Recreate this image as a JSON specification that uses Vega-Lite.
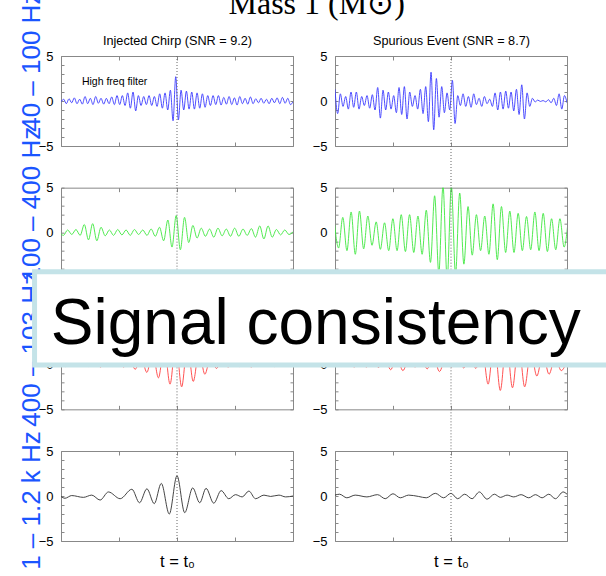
{
"$schema": "https://vega.github.io/schema/vega-lite/v6.json",
"background": "white",
"padding": {"left": 17, "top": -13, "right": -6, "bottom": 4},
"title": {"text": "Mass 1 (M⊙)", "font": "Liberation Serif", "fontSize": 32, "fontWeight": "normal", "color": "#000", "anchor": "middle", "offset": -55, "baseline": "alphabetic", "dx": 2},
"config": {
  "view": {"stroke": "#888", "strokeWidth": 1},
  "axis": {"domain": false, "grid": false, "tickColor": "#888", "tickWidth": 1, "labelFont": "Liberation Sans", "labelFontSize": 13, "labelColor": "#000", "titleFontWeight": "normal", "titleColor": "#000", "titleFont": "Liberation Sans", "titleLimit": 1000}
},
"data": {"values": [
{"panel":"A1","t":-2,"v":-0.1},{"panel":"A1","t":-1.954,"v":0.2},{"panel":"A1","t":-1.908,"v":-0.3},{"panel":"A1","t":-1.862,"v":0.25},{"panel":"A1","t":-1.816,"v":-0.2},{"panel":"A1","t":-1.77,"v":0.35},{"panel":"A1","t":-1.724,"v":-0.3},{"panel":"A1","t":-1.678,"v":0.2},{"panel":"A1","t":-1.632,"v":-0.35},{"panel":"A1","t":-1.586,"v":0.5},
{"panel":"A1","t":-1.54,"v":-0.3},{"panel":"A1","t":-1.494,"v":0.3},{"panel":"A1","t":-1.448,"v":-0.4},{"panel":"A1","t":-1.402,"v":0.5},{"panel":"A1","t":-1.356,"v":-0.25},{"panel":"A1","t":-1.31,"v":0.3},{"panel":"A1","t":-1.264,"v":-0.35},{"panel":"A1","t":-1.218,"v":0.3},{"panel":"A1","t":-1.172,"v":-0.3},{"panel":"A1","t":-1.126,"v":0.45},
{"panel":"A1","t":-1.08,"v":-0.4},{"panel":"A1","t":-1.034,"v":0.6},{"panel":"A1","t":-0.988,"v":-0.4},{"panel":"A1","t":-0.942,"v":0.6},{"panel":"A1","t":-0.896,"v":-0.5},{"panel":"A1","t":-0.85,"v":0.9},{"panel":"A1","t":-0.804,"v":-0.8},{"panel":"A1","t":-0.758,"v":1.0},{"panel":"A1","t":-0.712,"v":-1.1},{"panel":"A1","t":-0.666,"v":0.6},
{"panel":"A1","t":-0.62,"v":-0.5},{"panel":"A1","t":-0.574,"v":0.5},{"panel":"A1","t":-0.528,"v":-0.4},{"panel":"A1","t":-0.482,"v":0.6},{"panel":"A1","t":-0.436,"v":-0.5},{"panel":"A1","t":-0.39,"v":0.5},{"panel":"A1","t":-0.344,"v":-0.6},{"panel":"A1","t":-0.298,"v":0.8},{"panel":"A1","t":-0.252,"v":-0.8},{"panel":"A1","t":-0.206,"v":0.9},
{"panel":"A1","t":-0.16,"v":-1.0},{"panel":"A1","t":-0.114,"v":1.2},{"panel":"A1","t":-0.068,"v":-2.2},{"panel":"A1","t":-0.022,"v":2.7},{"panel":"A1","t":0.024,"v":-2.1},{"panel":"A1","t":0.07,"v":1.2},{"panel":"A1","t":0.116,"v":-1.0},{"panel":"A1","t":0.162,"v":1.1},{"panel":"A1","t":0.208,"v":-0.9},{"panel":"A1","t":0.254,"v":1.0},
{"panel":"A1","t":0.3,"v":-0.9},{"panel":"A1","t":0.346,"v":0.9},{"panel":"A1","t":0.392,"v":-0.8},{"panel":"A1","t":0.438,"v":0.8},{"panel":"A1","t":0.484,"v":-0.7},{"panel":"A1","t":0.53,"v":0.6},{"panel":"A1","t":0.576,"v":-0.5},{"panel":"A1","t":0.622,"v":0.6},{"panel":"A1","t":0.668,"v":-0.4},{"panel":"A1","t":0.714,"v":0.6},
{"panel":"A1","t":0.76,"v":-0.45},{"panel":"A1","t":0.806,"v":0.4},{"panel":"A1","t":0.852,"v":-0.35},{"panel":"A1","t":0.898,"v":0.5},{"panel":"A1","t":0.944,"v":-0.4},{"panel":"A1","t":0.99,"v":0.35},{"panel":"A1","t":1.036,"v":-0.45},{"panel":"A1","t":1.082,"v":0.5},{"panel":"A1","t":1.128,"v":-0.3},{"panel":"A1","t":1.174,"v":0.3},
{"panel":"A1","t":1.22,"v":-0.35},{"panel":"A1","t":1.266,"v":0.45},{"panel":"A1","t":1.312,"v":-0.3},{"panel":"A1","t":1.358,"v":0.25},{"panel":"A1","t":1.404,"v":-0.2},{"panel":"A1","t":1.45,"v":0.3},{"panel":"A1","t":1.496,"v":-0.25},{"panel":"A1","t":1.542,"v":0.2},{"panel":"A1","t":1.588,"v":-0.3},{"panel":"A1","t":1.634,"v":0.3},
{"panel":"A1","t":1.68,"v":-0.2},{"panel":"A1","t":1.726,"v":0.35},{"panel":"A1","t":1.772,"v":-0.3},{"panel":"A1","t":1.818,"v":0.4},{"panel":"A1","t":1.864,"v":-0.25},{"panel":"A1","t":1.91,"v":0.3},{"panel":"A1","t":1.956,"v":-0.4},{"panel":"A1","t":2,"v":-0.1},

{"panel":"B1","t":-2,"v":1.3},{"panel":"B1","t":-1.954,"v":-1.4},{"panel":"B1","t":-1.908,"v":0.8},{"panel":"B1","t":-1.862,"v":-0.6},{"panel":"B1","t":-1.816,"v":0.5},{"panel":"B1","t":-1.77,"v":-0.9},{"panel":"B1","t":-1.724,"v":1.0},{"panel":"B1","t":-1.678,"v":-0.7},{"panel":"B1","t":-1.632,"v":1.0},{"panel":"B1","t":-1.586,"v":-0.9},
{"panel":"B1","t":-1.54,"v":0.5},{"panel":"B1","t":-1.494,"v":-0.5},{"panel":"B1","t":-1.448,"v":0.6},{"panel":"B1","t":-1.402,"v":-0.8},{"panel":"B1","t":-1.356,"v":0.7},{"panel":"B1","t":-1.31,"v":-1.0},{"panel":"B1","t":-1.264,"v":1.5},{"panel":"B1","t":-1.218,"v":-1.9},{"panel":"B1","t":-1.172,"v":1.2},{"panel":"B1","t":-1.126,"v":-1.0},
{"panel":"B1","t":-1.08,"v":1.0},{"panel":"B1","t":-1.034,"v":-0.9},{"panel":"B1","t":-0.988,"v":0.6},{"panel":"B1","t":-0.942,"v":-1.3},{"panel":"B1","t":-0.896,"v":1.5},{"panel":"B1","t":-0.85,"v":-1.5},{"panel":"B1","t":-0.804,"v":1.6},{"panel":"B1","t":-0.758,"v":-2.0},{"panel":"B1","t":-0.712,"v":1.0},{"panel":"B1","t":-0.666,"v":-0.6},
{"panel":"B1","t":-0.62,"v":0.6},{"panel":"B1","t":-0.574,"v":-0.9},{"panel":"B1","t":-0.528,"v":1.3},{"panel":"B1","t":-0.482,"v":-1.4},{"panel":"B1","t":-0.436,"v":1.6},{"panel":"B1","t":-0.39,"v":-2.3},{"panel":"B1","t":-0.344,"v":3.2},{"panel":"B1","t":-0.298,"v":-3.2},{"panel":"B1","t":-0.252,"v":2.5},{"panel":"B1","t":-0.206,"v":-1.8},
{"panel":"B1","t":-0.16,"v":1.6},{"panel":"B1","t":-0.114,"v":-1.3},{"panel":"B1","t":-0.068,"v":0.9},{"panel":"B1","t":-0.022,"v":-1.0},{"panel":"B1","t":0.024,"v":2.3},{"panel":"B1","t":0.07,"v":-2.5},{"panel":"B1","t":0.116,"v":0.6},{"panel":"B1","t":0.162,"v":-0.5},{"panel":"B1","t":0.208,"v":0.8},{"panel":"B1","t":0.254,"v":-0.6},
{"panel":"B1","t":0.3,"v":0.5},{"panel":"B1","t":0.346,"v":-0.7},{"panel":"B1","t":0.392,"v":0.8},{"panel":"B1","t":0.438,"v":-0.4},{"panel":"B1","t":0.484,"v":0.3},{"panel":"B1","t":0.53,"v":-0.6},{"panel":"B1","t":0.576,"v":0.5},{"panel":"B1","t":0.622,"v":-0.3},{"panel":"B1","t":0.668,"v":0.2},{"panel":"B1","t":0.714,"v":-0.6},
{"panel":"B1","t":0.76,"v":0.9},{"panel":"B1","t":0.806,"v":-1.0},{"panel":"B1","t":0.852,"v":1.0},{"panel":"B1","t":0.898,"v":-0.9},{"panel":"B1","t":0.944,"v":1.1},{"panel":"B1","t":0.99,"v":-0.8},{"panel":"B1","t":1.036,"v":1.0},{"panel":"B1","t":1.082,"v":-1.1},{"panel":"B1","t":1.128,"v":1.3},{"panel":"B1","t":1.174,"v":-1.5},
{"panel":"B1","t":1.22,"v":1.8},{"panel":"B1","t":1.266,"v":-2.0},{"panel":"B1","t":1.312,"v":0.9},{"panel":"B1","t":1.358,"v":-0.6},{"panel":"B1","t":1.404,"v":0.3},{"panel":"B1","t":1.45,"v":-0.1},{"panel":"B1","t":1.496,"v":0.1},{"panel":"B1","t":1.542,"v":-0.05},{"panel":"B1","t":1.588,"v":0.05},{"panel":"B1","t":1.634,"v":-0.1},
{"panel":"B1","t":1.68,"v":0.15},{"panel":"B1","t":1.726,"v":-0.2},{"panel":"B1","t":1.772,"v":0.3},{"panel":"B1","t":1.818,"v":-0.5},{"panel":"B1","t":1.864,"v":0.8},{"panel":"B1","t":1.91,"v":-0.9},{"panel":"B1","t":1.956,"v":0.6},{"panel":"B1","t":2,"v":-0.2},

{"panel":"A2","t":-2.03,"v":0.1},{"panel":"A2","t":-1.958,"v":-0.3},{"panel":"A2","t":-1.886,"v":0.3},{"panel":"A2","t":-1.814,"v":-0.2},{"panel":"A2","t":-1.742,"v":0.35},{"panel":"A2","t":-1.67,"v":-0.3},{"panel":"A2","t":-1.598,"v":0.9},{"panel":"A2","t":-1.526,"v":-0.8},{"panel":"A2","t":-1.454,"v":1.0},{"panel":"A2","t":-1.382,"v":-0.9},
{"panel":"A2","t":-1.31,"v":0.6},{"panel":"A2","t":-1.238,"v":-0.35},{"panel":"A2","t":-1.166,"v":0.3},{"panel":"A2","t":-1.094,"v":-0.3},{"panel":"A2","t":-1.022,"v":0.35},{"panel":"A2","t":-0.95,"v":-0.25},{"panel":"A2","t":-0.878,"v":0.3},{"panel":"A2","t":-0.806,"v":-0.3},{"panel":"A2","t":-0.734,"v":0.35},{"panel":"A2","t":-0.662,"v":-0.2},
{"panel":"A2","t":-0.59,"v":0.3},{"panel":"A2","t":-0.518,"v":-0.3},{"panel":"A2","t":-0.446,"v":0.4},{"panel":"A2","t":-0.374,"v":-0.4},{"panel":"A2","t":-0.302,"v":0.6},{"panel":"A2","t":-0.23,"v":-0.9},{"panel":"A2","t":-0.158,"v":1.4},{"panel":"A2","t":-0.086,"v":-1.6},{"panel":"A2","t":-0.014,"v":1.9},{"panel":"A2","t":0.058,"v":-1.9},
{"panel":"A2","t":0.13,"v":1.7},{"panel":"A2","t":0.202,"v":-1.1},{"panel":"A2","t":0.274,"v":0.8},{"panel":"A2","t":0.346,"v":-0.6},{"panel":"A2","t":0.418,"v":0.5},{"panel":"A2","t":0.49,"v":-0.4},{"panel":"A2","t":0.562,"v":0.4},{"panel":"A2","t":0.634,"v":-0.5},{"panel":"A2","t":0.706,"v":0.5},{"panel":"A2","t":0.778,"v":-0.35},
{"panel":"A2","t":0.85,"v":0.4},{"panel":"A2","t":0.922,"v":-0.4},{"panel":"A2","t":0.994,"v":0.5},{"panel":"A2","t":1.066,"v":-0.4},{"panel":"A2","t":1.138,"v":0.4},{"panel":"A2","t":1.21,"v":-0.3},{"panel":"A2","t":1.282,"v":0.45},{"panel":"A2","t":1.354,"v":-0.5},{"panel":"A2","t":1.426,"v":0.75},{"panel":"A2","t":1.498,"v":-0.7},
{"panel":"A2","t":1.57,"v":0.75},{"panel":"A2","t":1.642,"v":-0.5},{"panel":"A2","t":1.714,"v":0.35},{"panel":"A2","t":1.786,"v":-0.25},{"panel":"A2","t":1.858,"v":0.3},{"panel":"A2","t":1.93,"v":-0.2},{"panel":"A2","t":2.002,"v":0.1},

{"panel":"B2","t":-2.01,"v":1.1},{"panel":"B2","t":-1.938,"v":-1.7},{"panel":"B2","t":-1.866,"v":1.7},{"panel":"B2","t":-1.794,"v":-2.0},{"panel":"B2","t":-1.722,"v":2.3},{"panel":"B2","t":-1.65,"v":-2.4},{"panel":"B2","t":-1.578,"v":2.4},{"panel":"B2","t":-1.506,"v":-1.8},{"panel":"B2","t":-1.434,"v":1.85},{"panel":"B2","t":-1.362,"v":-1.4},
{"panel":"B2","t":-1.29,"v":1.2},{"panel":"B2","t":-1.218,"v":-1.85},{"panel":"B2","t":-1.146,"v":1.1},{"panel":"B2","t":-1.074,"v":-2.0},{"panel":"B2","t":-1.002,"v":1.55},{"panel":"B2","t":-0.93,"v":-2.0},{"panel":"B2","t":-0.858,"v":2.0},{"panel":"B2","t":-0.786,"v":-2.1},{"panel":"B2","t":-0.714,"v":2.0},{"panel":"B2","t":-0.642,"v":-2.2},
{"panel":"B2","t":-0.57,"v":1.85},{"panel":"B2","t":-0.498,"v":-2.4},{"panel":"B2","t":-0.426,"v":2.5},{"panel":"B2","t":-0.354,"v":-3.3},{"panel":"B2","t":-0.282,"v":4.1},{"panel":"B2","t":-0.21,"v":-4.5},{"panel":"B2","t":-0.138,"v":5.2},{"panel":"B2","t":-0.066,"v":-5.2},{"panel":"B2","t":0.006,"v":5.2},{"panel":"B2","t":0.078,"v":-4.6},
{"panel":"B2","t":0.15,"v":4.4},{"panel":"B2","t":0.222,"v":-3.5},{"panel":"B2","t":0.294,"v":2.9},{"panel":"B2","t":0.366,"v":-2.5},{"panel":"B2","t":0.438,"v":2.0},{"panel":"B2","t":0.51,"v":-2.0},{"panel":"B2","t":0.582,"v":1.85},{"panel":"B2","t":0.654,"v":-2.4},{"panel":"B2","t":0.726,"v":3.2},{"panel":"B2","t":0.798,"v":-3.0},
{"panel":"B2","t":0.87,"v":2.9},{"panel":"B2","t":0.942,"v":-2.2},{"panel":"B2","t":1.014,"v":2.4},{"panel":"B2","t":1.086,"v":-2.2},{"panel":"B2","t":1.158,"v":2.15},{"panel":"B2","t":1.23,"v":-2.0},{"panel":"B2","t":1.302,"v":1.8},{"panel":"B2","t":1.374,"v":-1.9},{"panel":"B2","t":1.446,"v":2.3},{"panel":"B2","t":1.518,"v":-2.0},
{"panel":"B2","t":1.59,"v":2.15},{"panel":"B2","t":1.662,"v":-2.1},{"panel":"B2","t":1.734,"v":1.55},{"panel":"B2","t":1.806,"v":-1.9},{"panel":"B2","t":1.878,"v":1.55},{"panel":"B2","t":1.95,"v":-1.6},{"panel":"B2","t":2.022,"v":1.5},

{"panel":"A3","t":-2.02,"v":0.3},{"panel":"A3","t":-1.92,"v":-0.25},{"panel":"A3","t":-1.82,"v":0.4},{"panel":"A3","t":-1.72,"v":-0.2},{"panel":"A3","t":-1.62,"v":0.3},{"panel":"A3","t":-1.52,"v":-0.25},{"panel":"A3","t":-1.42,"v":0.5},{"panel":"A3","t":-1.32,"v":-0.3},{"panel":"A3","t":-1.22,"v":0.4},{"panel":"A3","t":-1.12,"v":-0.25},
{"panel":"A3","t":-1.02,"v":0.5},{"panel":"A3","t":-0.92,"v":-0.3},{"panel":"A3","t":-0.82,"v":0.6},{"panel":"A3","t":-0.72,"v":-0.55},{"panel":"A3","t":-0.62,"v":0.9},{"panel":"A3","t":-0.52,"v":-0.9},{"panel":"A3","t":-0.42,"v":1.4},{"panel":"A3","t":-0.32,"v":-1.5},{"panel":"A3","t":-0.22,"v":2.0},{"panel":"A3","t":-0.12,"v":-2.2},
{"panel":"A3","t":-0.02,"v":2.5},{"panel":"A3","t":0.08,"v":-2.5},{"panel":"A3","t":0.18,"v":2.2},{"panel":"A3","t":0.28,"v":-1.9},{"panel":"A3","t":0.38,"v":1.5},{"panel":"A3","t":0.48,"v":-1.1},{"panel":"A3","t":0.58,"v":0.8},{"panel":"A3","t":0.68,"v":-0.45},{"panel":"A3","t":0.78,"v":0.5},{"panel":"A3","t":0.88,"v":-0.3},
{"panel":"A3","t":0.98,"v":0.4},{"panel":"A3","t":1.08,"v":-0.25},{"panel":"A3","t":1.18,"v":0.4},{"panel":"A3","t":1.28,"v":-0.3},{"panel":"A3","t":1.38,"v":0.3},{"panel":"A3","t":1.48,"v":-0.2},{"panel":"A3","t":1.58,"v":0.3},{"panel":"A3","t":1.68,"v":-0.25},{"panel":"A3","t":1.78,"v":0.3},{"panel":"A3","t":1.88,"v":-0.2},
{"panel":"A3","t":1.98,"v":0.3},{"panel":"A3","t":2.08,"v":-0.2},

{"panel":"B3","t":-1.985,"v":0.4},{"panel":"B3","t":-1.88,"v":-0.25},{"panel":"B3","t":-1.775,"v":0.5},{"panel":"B3","t":-1.67,"v":-0.3},{"panel":"B3","t":-1.565,"v":0.5},{"panel":"B3","t":-1.46,"v":-0.3},{"panel":"B3","t":-1.355,"v":0.6},{"panel":"B3","t":-1.25,"v":-0.35},{"panel":"B3","t":-1.145,"v":0.8},{"panel":"B3","t":-1.04,"v":-0.6},
{"panel":"B3","t":-0.935,"v":0.9},{"panel":"B3","t":-0.83,"v":-0.7},{"panel":"B3","t":-0.725,"v":0.6},{"panel":"B3","t":-0.62,"v":-0.3},{"panel":"B3","t":-0.515,"v":0.7},{"panel":"B3","t":-0.41,"v":-0.5},{"panel":"B3","t":-0.305,"v":1.0},{"panel":"B3","t":-0.2,"v":-0.8},{"panel":"B3","t":-0.095,"v":0.6},{"panel":"B3","t":0.01,"v":-0.3},
{"panel":"B3","t":0.115,"v":0.6},{"panel":"B3","t":0.22,"v":-0.4},{"panel":"B3","t":0.325,"v":0.8},{"panel":"B3","t":0.43,"v":-0.45},{"panel":"B3","t":0.535,"v":2.0},{"panel":"B3","t":0.64,"v":-2.2},{"panel":"B3","t":0.745,"v":2.8},{"panel":"B3","t":0.85,"v":-2.9},{"panel":"B3","t":0.955,"v":2.7},{"panel":"B3","t":1.06,"v":-2.6},
{"panel":"B3","t":1.165,"v":2.5},{"panel":"B3","t":1.27,"v":-2.5},{"panel":"B3","t":1.375,"v":1.5},{"panel":"B3","t":1.48,"v":-1.3},{"panel":"B3","t":1.585,"v":1.2},{"panel":"B3","t":1.69,"v":-1.1},{"panel":"B3","t":1.795,"v":0.8},{"panel":"B3","t":1.9,"v":-0.7},{"panel":"B3","t":2.005,"v":0.5},

{"panel":"A4","t":-2,"v":-0.05},{"panel":"A4","t":-1.931,"v":-0.25},{"panel":"A4","t":-1.816,"v":0.05},{"panel":"A4","t":-1.614,"v":-0.15},{"panel":"A4","t":-1.47,"v":0.1},{"panel":"A4","t":-1.326,"v":-0.45},{"panel":"A4","t":-1.182,"v":0.45},{"panel":"A4","t":-0.98,"v":-0.3},{"panel":"A4","t":-0.778,"v":0.75},{"panel":"A4","t":-0.646,"v":-0.75},
{"panel":"A4","t":-0.519,"v":0.8},{"panel":"A4","t":-0.392,"v":-0.85},{"panel":"A4","t":-0.271,"v":1.4},{"panel":"A4","t":-0.133,"v":-2.0},{"panel":"A4","t":0,"v":2.25},{"panel":"A4","t":0.133,"v":-1.85},{"panel":"A4","t":0.271,"v":0.9},{"panel":"A4","t":0.392,"v":-0.75},{"panel":"A4","t":0.501,"v":0.85},{"panel":"A4","t":0.634,"v":-0.8},
{"panel":"A4","t":0.761,"v":0.6},{"panel":"A4","t":0.893,"v":-0.3},{"panel":"A4","t":1.009,"v":0.15},{"panel":"A4","t":1.124,"v":-0.1},{"panel":"A4","t":1.239,"v":0.55},{"panel":"A4","t":1.354,"v":-0.3},{"panel":"A4","t":1.499,"v":0.1},{"panel":"A4","t":1.614,"v":-0.05},{"panel":"A4","t":1.758,"v":0.1},{"panel":"A4","t":1.873,"v":-0.1},
{"panel":"A4","t":2,"v":0},

{"panel":"B4","t":-2,"v":0.1},{"panel":"B4","t":-1.922,"v":0.2},{"panel":"B4","t":-1.796,"v":-0.2},{"panel":"B4","t":-1.652,"v":0.1},{"panel":"B4","t":-1.45,"v":-0.1},{"panel":"B4","t":-1.266,"v":0.15},{"panel":"B4","t":-1.134,"v":-0.3},{"panel":"B4","t":-1.001,"v":0.25},{"panel":"B4","t":-0.875,"v":-0.2},{"panel":"B4","t":-0.731,"v":0.1},
{"panel":"B4","t":-0.558,"v":-0.05},{"panel":"B4","t":-0.426,"v":-0.2},{"panel":"B4","t":-0.271,"v":0.3},{"panel":"B4","t":-0.127,"v":-0.2},{"panel":"B4","t":0,"v":0.3},{"panel":"B4","t":0.115,"v":-0.3},{"panel":"B4","t":0.236,"v":0.2},{"panel":"B4","t":0.363,"v":-0.3},{"panel":"B4","t":0.489,"v":0.45},{"panel":"B4","t":0.622,"v":-0.35},
{"panel":"B4","t":0.748,"v":0.2},{"panel":"B4","t":0.852,"v":-0.15},{"panel":"B4","t":0.967,"v":0.1},{"panel":"B4","t":1.082,"v":-0.1},{"panel":"B4","t":1.209,"v":0.15},{"panel":"B4","t":1.341,"v":-0.2},{"panel":"B4","t":1.456,"v":0.15},{"panel":"B4","t":1.571,"v":-0.2},{"panel":"B4","t":1.686,"v":0.2},{"panel":"B4","t":1.801,"v":-0.3},
{"panel":"B4","t":1.933,"v":0.45},{"panel":"B4","t":2,"v":0.2}
]},
"bounds": "flush",
"columns": 2,
"spacing": {"row": 41.67, "column": 42},
"concat": [
  {"width": 232, "height": 90, "resolve": {"axis": {"x": "independent", "y": "independent"}},
   "layer": [
    {"transform": [{"filter": "datum.panel === 'A1'"}],
     "mark": {"type": "line", "interpolate": "monotone", "color": "#3a3aff", "strokeWidth": 0.9, "clip": true},
     "encoding": {
      "x": {"field": "t", "type": "quantitative", "scale": {"domain": [-2, 2], "nice": false, "zero": false}, "axis": {"orient": "bottom", "values": [-2, -1, 0, 1, 2], "labels": false, "tickSize": -4, "title": null}},
      "y": {"field": "v", "type": "quantitative", "scale": {"domain": [-5, 5], "nice": false, "zero": false}, "axis": {"orient": "left", "values": [-5, -4, -3, -2, -1, 0, 1, 2, 3, 4, 5], "labelExpr": "datum.value % 5 === 0 ? datum.label : ''", "tickSize": -3, "labelPadding": 11, "title": "40 – 100 Hz", "titleColor": "#1a55ff", "titleFont": "Liberation Sans", "titleFontSize": 26, "titleAngle": 270, "titleAlign": "center", "titleBaseline": "alphabetic", "titleX": -22, "titleY": 5.2}}}},
    {"data": {"values": [{}]},
     "mark": {"type": "rule", "color": "#666", "strokeDash": [1, 2], "strokeWidth": 1},
     "encoding": {
      "x": {"datum": 0, "type": "quantitative", "scale": {"domain": [-2, 2], "nice": false, "zero": false}, "axis": {"orient": "top", "values": [-2, -1, 0, 1, 2], "labels": false, "tickSize": -4, "title": "Injected Chirp (SNR = 9.2)", "titleFontSize": 12.7, "titlePadding": 11, "titleBaseline": "alphabetic"}},
      "y": {"datum": 5, "type": "quantitative", "scale": {"domain": [-5, 5], "nice": false, "zero": false}, "axis": {"orient": "right", "values": [-5, -4, -3, -2, -1, 0, 1, 2, 3, 4, 5], "labels": false, "tickSize": -3, "title": null}},
      "y2": {"datum": -9.7}}},
    {"data": {"values": [{"note": "High freq filter"}]},
     "mark": {"type": "text", "align": "left", "baseline": "alphabetic", "font": "Liberation Sans", "fontSize": 10.5, "color": "#000"},
     "encoding": {
      "x": {"datum": -1.64, "type": "quantitative", "scale": {"domain": [-2, 2], "nice": false, "zero": false}, "axis": null},
      "y": {"datum": 1.78, "type": "quantitative", "scale": {"domain": [-5, 5], "nice": false, "zero": false}, "axis": null},
      "text": {"field": "note"}}}
   ]},
  {"width": 232, "height": 90, "resolve": {"axis": {"x": "independent", "y": "independent"}},
   "layer": [
    {"transform": [{"filter": "datum.panel === 'B1'"}],
     "mark": {"type": "line", "interpolate": "monotone", "color": "#3a3aff", "strokeWidth": 0.9, "clip": true},
     "encoding": {
      "x": {"field": "t", "type": "quantitative", "scale": {"domain": [-2, 2], "nice": false, "zero": false}, "axis": {"orient": "bottom", "values": [-2, -1, 0, 1, 2], "labels": false, "tickSize": -4, "title": null}},
      "y": {"field": "v", "type": "quantitative", "scale": {"domain": [-5, 5], "nice": false, "zero": false}, "axis": {"orient": "left", "values": [-5, -4, -3, -2, -1, 0, 1, 2, 3, 4, 5], "labelExpr": "datum.value % 5 === 0 ? datum.label : ''", "tickSize": -3, "labelPadding": 11, "title": null}}}},
    {"data": {"values": [{}]},
     "mark": {"type": "rule", "color": "#666", "strokeDash": [1, 2], "strokeWidth": 1},
     "encoding": {
      "x": {"datum": 0, "type": "quantitative", "scale": {"domain": [-2, 2], "nice": false, "zero": false}, "axis": {"orient": "top", "values": [-2, -1, 0, 1, 2], "labels": false, "tickSize": -4, "title": "Spurious Event (SNR = 8.7)", "titleFontSize": 12.7, "titlePadding": 11, "titleBaseline": "alphabetic"}},
      "y": {"datum": 5, "type": "quantitative", "scale": {"domain": [-5, 5], "nice": false, "zero": false}, "axis": {"orient": "right", "values": [-5, -4, -3, -2, -1, 0, 1, 2, 3, 4, 5], "labels": false, "tickSize": -3, "title": null}},
      "y2": {"datum": -9.7}}}
   ]},
  {"width": 232, "height": 90, "resolve": {"axis": {"x": "independent", "y": "independent"}},
   "layer": [
    {"transform": [{"filter": "datum.panel === 'A2'"}],
     "mark": {"type": "line", "interpolate": "monotone", "color": "#3ee83e", "strokeWidth": 0.9, "clip": true},
     "encoding": {
      "x": {"field": "t", "type": "quantitative", "scale": {"domain": [-2, 2], "nice": false, "zero": false}, "axis": {"orient": "bottom", "values": [-2, -1, 0, 1, 2], "labels": false, "tickSize": -4, "title": null}},
      "y": {"field": "v", "type": "quantitative", "scale": {"domain": [-5, 5], "nice": false, "zero": false}, "axis": {"orient": "left", "values": [-5, -4, -3, -2, -1, 0, 1, 2, 3, 4, 5], "labelExpr": "datum.value % 5 === 0 ? datum.label : ''", "tickSize": -3, "labelPadding": 11, "title": "100 – 400 Hz", "titleColor": "#1a55ff", "titleFont": "Liberation Sans", "titleFontSize": 26, "titleAngle": 270, "titleAlign": "center", "titleBaseline": "alphabetic", "titleX": -22, "titleY": 16}}}},
    {"data": {"values": [{}]},
     "mark": {"type": "rule", "color": "#666", "strokeDash": [1, 2], "strokeWidth": 1},
     "encoding": {
      "x": {"datum": 0, "type": "quantitative", "scale": {"domain": [-2, 2], "nice": false, "zero": false}, "axis": {"orient": "top", "values": [-2, -1, 0, 1, 2], "labels": false, "tickSize": -4, "title": null}},
      "y": {"datum": 5, "type": "quantitative", "scale": {"domain": [-5, 5], "nice": false, "zero": false}, "axis": {"orient": "right", "values": [-5, -4, -3, -2, -1, 0, 1, 2, 3, 4, 5], "labels": false, "tickSize": -3, "title": null}},
      "y2": {"datum": -9.7}}}
   ]},
  {"width": 232, "height": 90, "resolve": {"axis": {"x": "independent", "y": "independent"}},
   "layer": [
    {"transform": [{"filter": "datum.panel === 'B2'"}],
     "mark": {"type": "line", "interpolate": "monotone", "color": "#3ee83e", "strokeWidth": 0.9, "clip": true},
     "encoding": {
      "x": {"field": "t", "type": "quantitative", "scale": {"domain": [-2, 2], "nice": false, "zero": false}, "axis": {"orient": "bottom", "values": [-2, -1, 0, 1, 2], "labels": false, "tickSize": -4, "title": null}},
      "y": {"field": "v", "type": "quantitative", "scale": {"domain": [-5, 5], "nice": false, "zero": false}, "axis": {"orient": "left", "values": [-5, -4, -3, -2, -1, 0, 1, 2, 3, 4, 5], "labelExpr": "datum.value % 5 === 0 ? datum.label : ''", "tickSize": -3, "labelPadding": 11, "title": null}}}},
    {"data": {"values": [{}]},
     "mark": {"type": "rule", "color": "#666", "strokeDash": [1, 2], "strokeWidth": 1},
     "encoding": {
      "x": {"datum": 0, "type": "quantitative", "scale": {"domain": [-2, 2], "nice": false, "zero": false}, "axis": {"orient": "top", "values": [-2, -1, 0, 1, 2], "labels": false, "tickSize": -4, "title": null}},
      "y": {"datum": 5, "type": "quantitative", "scale": {"domain": [-5, 5], "nice": false, "zero": false}, "axis": {"orient": "right", "values": [-5, -4, -3, -2, -1, 0, 1, 2, 3, 4, 5], "labels": false, "tickSize": -3, "title": null}},
      "y2": {"datum": -9.7}}}
   ]},
  {"width": 232, "height": 90, "resolve": {"axis": {"x": "independent", "y": "independent"}},
   "layer": [
    {"transform": [{"filter": "datum.panel === 'A3'"}],
     "mark": {"type": "line", "interpolate": "monotone", "color": "#ff4040", "strokeWidth": 0.9, "clip": true},
     "encoding": {
      "x": {"field": "t", "type": "quantitative", "scale": {"domain": [-2, 2], "nice": false, "zero": false}, "axis": {"orient": "bottom", "values": [-2, -1, 0, 1, 2], "labels": false, "tickSize": -4, "title": null}},
      "y": {"field": "v", "type": "quantitative", "scale": {"domain": [-5, 5], "nice": false, "zero": false}, "axis": {"orient": "left", "values": [-5, -4, -3, -2, -1, 0, 1, 2, 3, 4, 5], "labelExpr": "datum.value % 5 === 0 ? datum.label : ''", "tickSize": -3, "labelPadding": 11, "title": "400 – 103 Hz", "titleColor": "#1a55ff", "titleFont": "Liberation Sans", "titleFontSize": 26, "titleAngle": 270, "titleAlign": "center", "titleBaseline": "alphabetic", "titleX": -22, "titleY": 29.5}}}},
    {"data": {"values": [{}]},
     "mark": {"type": "rule", "color": "#666", "strokeDash": [1, 2], "strokeWidth": 1},
     "encoding": {
      "x": {"datum": 0, "type": "quantitative", "scale": {"domain": [-2, 2], "nice": false, "zero": false}, "axis": {"orient": "top", "values": [-2, -1, 0, 1, 2], "labels": false, "tickSize": -4, "title": null}},
      "y": {"datum": 5, "type": "quantitative", "scale": {"domain": [-5, 5], "nice": false, "zero": false}, "axis": {"orient": "right", "values": [-5, -4, -3, -2, -1, 0, 1, 2, 3, 4, 5], "labels": false, "tickSize": -3, "title": null}},
      "y2": {"datum": -9.7}}}
   ]},
  {"width": 232, "height": 90, "resolve": {"axis": {"x": "independent", "y": "independent"}},
   "layer": [
    {"transform": [{"filter": "datum.panel === 'B3'"}],
     "mark": {"type": "line", "interpolate": "monotone", "color": "#ff4040", "strokeWidth": 0.9, "clip": true},
     "encoding": {
      "x": {"field": "t", "type": "quantitative", "scale": {"domain": [-2, 2], "nice": false, "zero": false}, "axis": {"orient": "bottom", "values": [-2, -1, 0, 1, 2], "labels": false, "tickSize": -4, "title": null}},
      "y": {"field": "v", "type": "quantitative", "scale": {"domain": [-5, 5], "nice": false, "zero": false}, "axis": {"orient": "left", "values": [-5, -4, -3, -2, -1, 0, 1, 2, 3, 4, 5], "labelExpr": "datum.value % 5 === 0 ? datum.label : ''", "tickSize": -3, "labelPadding": 11, "title": null}}}},
    {"data": {"values": [{}]},
     "mark": {"type": "rule", "color": "#666", "strokeDash": [1, 2], "strokeWidth": 1},
     "encoding": {
      "x": {"datum": 0, "type": "quantitative", "scale": {"domain": [-2, 2], "nice": false, "zero": false}, "axis": {"orient": "top", "values": [-2, -1, 0, 1, 2], "labels": false, "tickSize": -4, "title": null}},
      "y": {"datum": 5, "type": "quantitative", "scale": {"domain": [-5, 5], "nice": false, "zero": false}, "axis": {"orient": "right", "values": [-5, -4, -3, -2, -1, 0, 1, 2, 3, 4, 5], "labels": false, "tickSize": -3, "title": null}},
      "y2": {"datum": -9.7}}},
    {"data": {"values": [{"caption": "Signal consistency"}]},
     "layer": [
      {"mark": {"type": "rect", "fill": "white", "stroke": "#c4e3e8", "strokeWidth": 5},
       "encoding": {
        "x": {"datum": -7.18, "type": "quantitative", "scale": {"domain": [-2, 2], "nice": false, "zero": false}, "axis": null},
        "x2": {"datum": 2.72},
        "y": {"datum": 10.28, "type": "quantitative", "scale": {"domain": [-5, 5], "nice": false, "zero": false}, "axis": null},
        "y2": {"datum": -0.06}}},
      {"mark": {"type": "text", "align": "left", "baseline": "alphabetic", "font": "Liberation Sans", "fontSize": 64, "color": "#000"},
       "encoding": {
        "x": {"datum": -6.9, "type": "quantitative", "scale": {"domain": [-2, 2], "nice": false, "zero": false}, "axis": null},
        "y": {"datum": 2.22, "type": "quantitative", "scale": {"domain": [-5, 5], "nice": false, "zero": false}, "axis": null},
        "text": {"field": "caption"}}}
     ]}
   ]},
  {"width": 232, "height": 90, "resolve": {"axis": {"x": "independent", "y": "independent"}},
   "layer": [
    {"transform": [{"filter": "datum.panel === 'A4'"}],
     "mark": {"type": "line", "interpolate": "monotone", "color": "#303030", "strokeWidth": 0.9, "clip": true},
     "encoding": {
      "x": {"field": "t", "type": "quantitative", "scale": {"domain": [-2, 2], "nice": false, "zero": false}, "axis": {"orient": "bottom", "values": [-2, -1, 0, 1, 2], "labels": false, "tickSize": -4, "title": "t = t₀", "titleFontSize": 16.5, "titlePadding": 25, "titleBaseline": "alphabetic"}},
      "y": {"field": "v", "type": "quantitative", "scale": {"domain": [-5, 5], "nice": false, "zero": false}, "axis": {"orient": "left", "values": [-5, -4, -3, -2, -1, 0, 1, 2, 3, 4, 5], "labelExpr": "datum.value % 5 === 0 ? datum.label : ''", "tickSize": -3, "labelPadding": 11, "title": "1 – 1.2 k Hz", "titleColor": "#1a55ff", "titleFont": "Liberation Sans", "titleFontSize": 26, "titleAngle": 270, "titleAlign": "center", "titleBaseline": "alphabetic", "titleX": -22, "titleY": 49}}}},
    {"data": {"values": [{}]},
     "mark": {"type": "rule", "color": "#666", "strokeDash": [1, 2], "strokeWidth": 1},
     "encoding": {
      "x": {"datum": 0, "type": "quantitative", "scale": {"domain": [-2, 2], "nice": false, "zero": false}, "axis": {"orient": "top", "values": [-2, -1, 0, 1, 2], "labels": false, "tickSize": -4, "title": null}},
      "y": {"datum": 5, "type": "quantitative", "scale": {"domain": [-5, 5], "nice": false, "zero": false}, "axis": {"orient": "right", "values": [-5, -4, -3, -2, -1, 0, 1, 2, 3, 4, 5], "labels": false, "tickSize": -3, "title": null}},
      "y2": {"datum": -5}}}
   ]},
  {"width": 232, "height": 90, "resolve": {"axis": {"x": "independent", "y": "independent"}},
   "layer": [
    {"transform": [{"filter": "datum.panel === 'B4'"}],
     "mark": {"type": "line", "interpolate": "monotone", "color": "#303030", "strokeWidth": 0.9, "clip": true},
     "encoding": {
      "x": {"field": "t", "type": "quantitative", "scale": {"domain": [-2, 2], "nice": false, "zero": false}, "axis": {"orient": "bottom", "values": [-2, -1, 0, 1, 2], "labels": false, "tickSize": -4, "title": "t = t₀", "titleFontSize": 16.5, "titlePadding": 25, "titleBaseline": "alphabetic"}},
      "y": {"field": "v", "type": "quantitative", "scale": {"domain": [-5, 5], "nice": false, "zero": false}, "axis": {"orient": "left", "values": [-5, -4, -3, -2, -1, 0, 1, 2, 3, 4, 5], "labelExpr": "datum.value % 5 === 0 ? datum.label : ''", "tickSize": -3, "labelPadding": 11, "title": null}}}},
    {"data": {"values": [{}]},
     "mark": {"type": "rule", "color": "#666", "strokeDash": [1, 2], "strokeWidth": 1},
     "encoding": {
      "x": {"datum": 0, "type": "quantitative", "scale": {"domain": [-2, 2], "nice": false, "zero": false}, "axis": {"orient": "top", "values": [-2, -1, 0, 1, 2], "labels": false, "tickSize": -4, "title": null}},
      "y": {"datum": 5, "type": "quantitative", "scale": {"domain": [-5, 5], "nice": false, "zero": false}, "axis": {"orient": "right", "values": [-5, -4, -3, -2, -1, 0, 1, 2, 3, 4, 5], "labels": false, "tickSize": -3, "title": null}},
      "y2": {"datum": -5}}}
   ]}
]
}
